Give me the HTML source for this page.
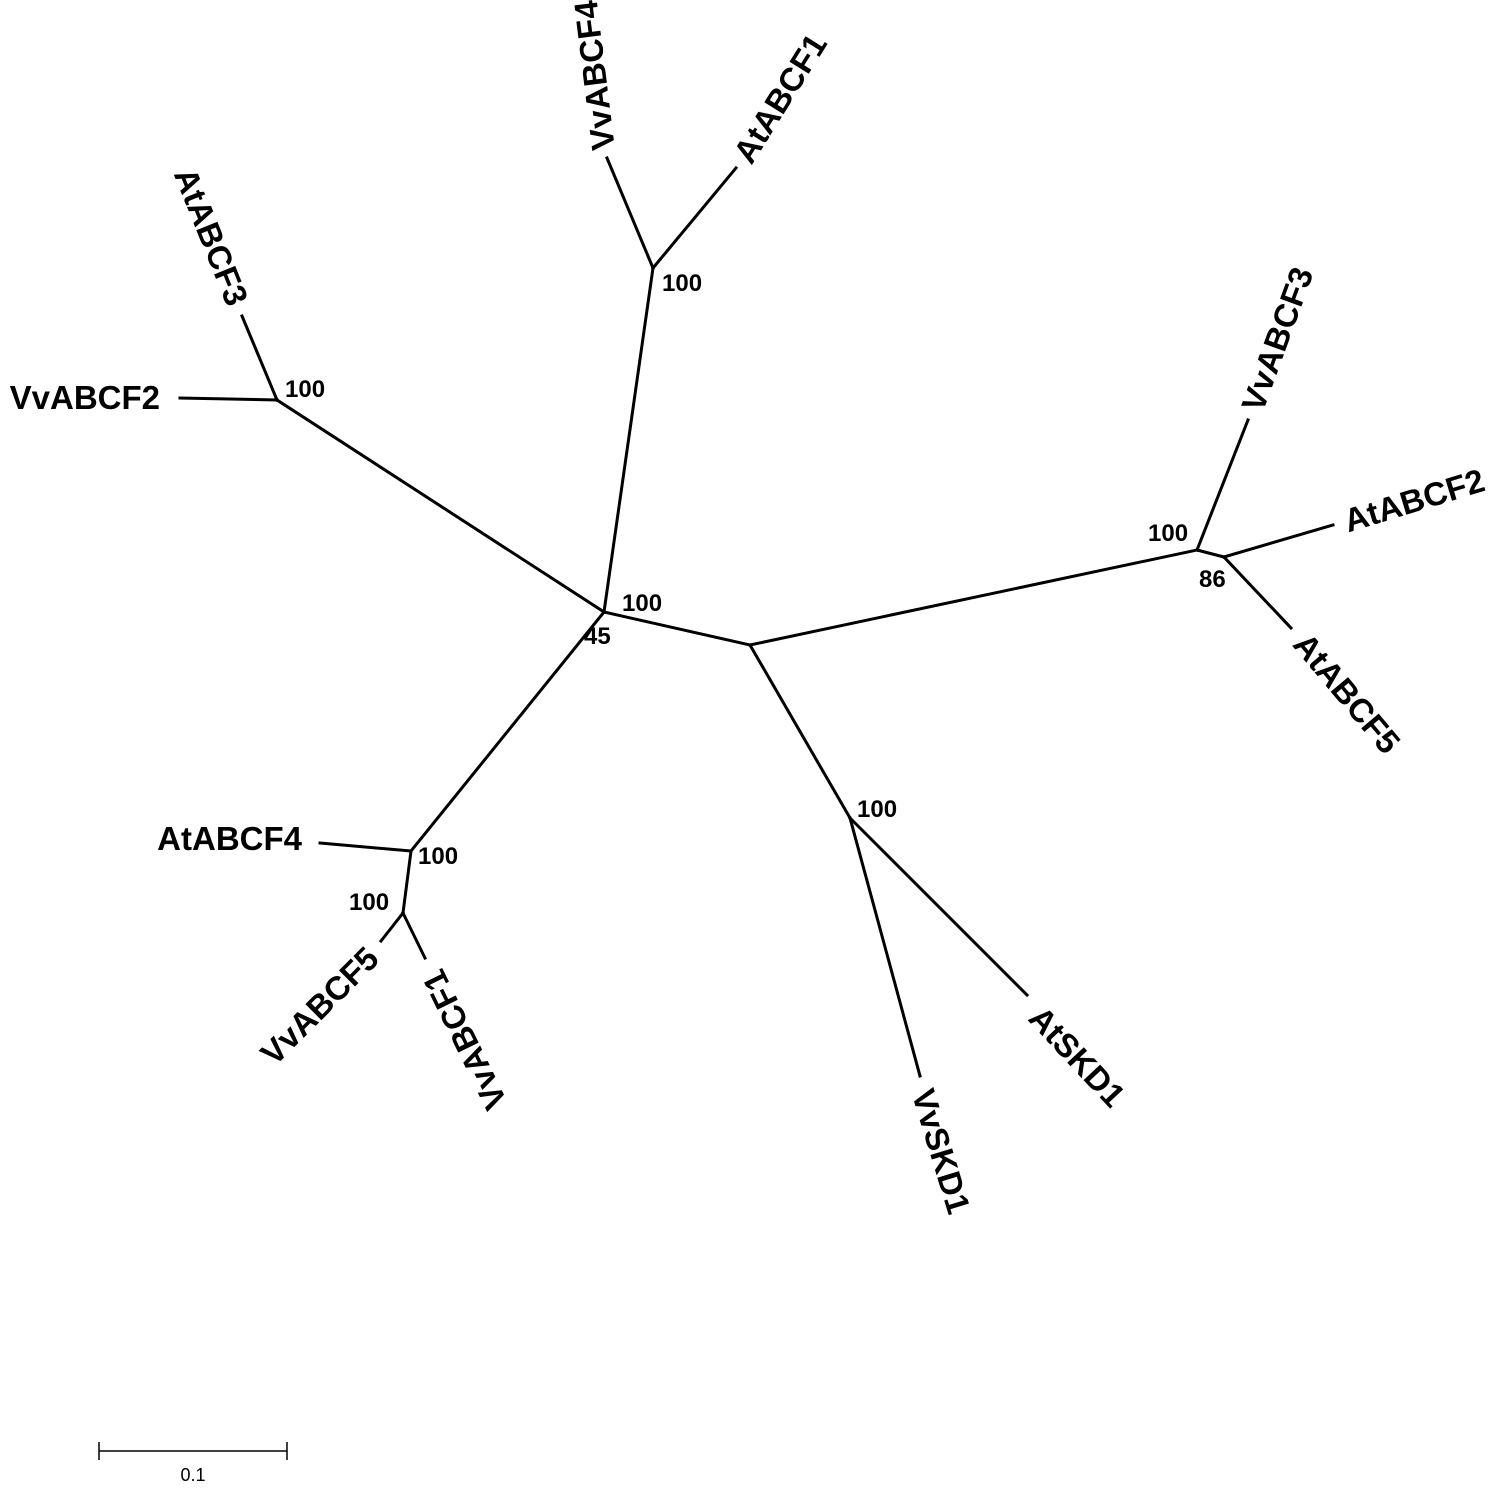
<!DOCTYPE html>
<html><head><meta charset="utf-8"><style>html,body{margin:0;padding:0;background:#fff}svg{display:block}</style></head>
<body>
<svg width="1495" height="1500" viewBox="0 0 1495 1500" xmlns="http://www.w3.org/2000/svg">
<g stroke="#000" stroke-width="3" fill="none" stroke-linecap="square">
<line x1="604" y1="612" x2="653" y2="268"/>
<line x1="653" y1="268" x2="607" y2="158"/>
<line x1="653" y1="268" x2="736" y2="168"/>
<line x1="604" y1="612" x2="277" y2="400"/>
<line x1="277" y1="400" x2="242" y2="316"/>
<line x1="277" y1="400" x2="180" y2="398"/>
<line x1="604" y1="612" x2="750" y2="645"/>
<line x1="750" y1="645" x2="1197" y2="550"/>
<line x1="1197" y1="550" x2="1248" y2="420"/>
<line x1="1197" y1="550" x2="1224" y2="557"/>
<line x1="1224" y1="557" x2="1333" y2="525"/>
<line x1="1224" y1="557" x2="1291" y2="628"/>
<line x1="750" y1="645" x2="850" y2="818"/>
<line x1="850" y1="818" x2="920" y2="1076"/>
<line x1="850" y1="818" x2="1027" y2="995"/>
<line x1="604" y1="612" x2="411" y2="851"/>
<line x1="411" y1="851" x2="320" y2="843"/>
<line x1="411" y1="851" x2="403" y2="913"/>
<line x1="403" y1="913" x2="381" y2="941"/>
<line x1="403" y1="913" x2="425" y2="958"/>
</g>
<g font-family="Liberation Sans, Arial, sans-serif" font-weight="bold" font-size="33" fill="#000">
<text transform="translate(604,150) rotate(-97)" y="11">VvABCF4</text>
<text transform="translate(742,160) rotate(-58)" y="11">AtABCF1</text>
<text transform="translate(238,304) rotate(68)" y="11" text-anchor="end">AtABCF3</text>
<text x="160" y="409" text-anchor="end">VvABCF2</text>
<text x="302" y="850" text-anchor="end">AtABCF4</text>
<text transform="translate(373,953) rotate(-45)" y="11" text-anchor="end">VvABCF5</text>
<text transform="translate(432,972) rotate(-116)" y="11" text-anchor="end">VvABCF1</text>
<text transform="translate(922,1090) rotate(73)" y="11">VvSKD1</text>
<text transform="translate(1035,1012) rotate(47)" y="11">AtSKD1</text>
<text transform="translate(1252,410) rotate(-70)" y="11">VvABCF3</text>
<text transform="translate(1345,522) rotate(-17)" y="11">AtABCF2</text>
<text transform="translate(1300,638) rotate(50)" y="11">AtABCF5</text>
</g>
<g font-family="Liberation Sans, Arial, sans-serif" font-weight="bold" font-size="24" fill="#000">
<text x="662" y="291">100</text>
<text x="285" y="397">100</text>
<text x="622" y="611">100</text>
<text x="584" y="644">45</text>
<text x="1148" y="541">100</text>
<text x="1199" y="587">86</text>
<text x="857" y="817">100</text>
<text x="418" y="864">100</text>
<text x="349" y="910">100</text>
</g>
<g stroke="#000" stroke-width="1.5">
<line x1="99" y1="1451" x2="287" y2="1451"/>
<line x1="99" y1="1442" x2="99" y2="1460"/>
<line x1="287" y1="1442" x2="287" y2="1460"/>
</g>
<text x="193" y="1481" text-anchor="middle" font-family="Liberation Sans, Arial, sans-serif" font-size="18" fill="#000">0.1</text>
</svg>
</body></html>
